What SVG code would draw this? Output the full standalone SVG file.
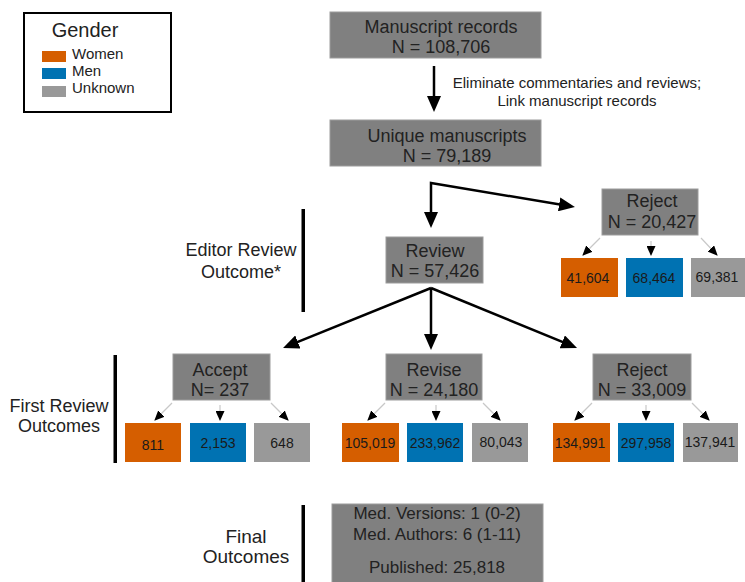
<svg xmlns="http://www.w3.org/2000/svg" width="745" height="582" viewBox="0 0 745 582">
<defs>
<style>
text{font-family:"Liberation Sans",Arial,sans-serif;fill:#222;text-anchor:middle}
.main{fill:#808080;stroke:#9c9c9c;stroke-width:1}
.big{font-size:18px}
.num{font-size:14px;fill:#1a1a1a}
.w{fill:#D55E00}
.m{fill:#0072B2}
.u{fill:#999999}
.bar{fill:#000}
.conn{stroke:#000;stroke-width:2.5;fill:none}
.thin{stroke:#c8c8c8;stroke-width:1.2;fill:none}
</style>
<marker id="ah" markerUnits="userSpaceOnUse" markerWidth="16" markerHeight="14" refX="10" refY="7" orient="auto-start-reverse">
<path d="M0,0 L16,7 L0,14 z" fill="#000"/>
</marker>
<marker id="sh" markerUnits="userSpaceOnUse" markerWidth="10" markerHeight="9" refX="9" refY="4.5" orient="auto">
<path d="M0,0 L10,4.5 L0,9 z" fill="#000"/>
</marker>
</defs>
<rect width="745" height="582" fill="#fff"/>

<g id="legend">
<rect x="24" y="13" width="147" height="99" fill="#fff" stroke="#000" stroke-width="2"/>
<text x="85" y="37" style="font-size:20px">Gender</text>
<rect class="w" x="42" y="51" width="24" height="11"/>
<rect class="m" x="42" y="68" width="24" height="11"/>
<rect class="u" x="42" y="86" width="24" height="11"/>
<text x="72" y="59" style="font-size:15px;text-anchor:start">Women</text>
<text x="72" y="76" style="font-size:15px;text-anchor:start">Men</text>
<text x="72" y="93" style="font-size:15px;text-anchor:start">Unknown</text>
</g>

<g id="connectors">
<line class="conn" x1="434" y1="66" x2="434" y2="106" marker-end="url(#ah)"/>
<path class="conn" d="M431,222 V183 L569,206" marker-start="url(#ah)" marker-end="url(#ah)"/>
<line class="conn" x1="431" y1="288" x2="431" y2="344" marker-end="url(#ah)"/>
<line class="conn" x1="431" y1="288" x2="288.6" y2="345.7" marker-end="url(#ah)"/>
<line class="conn" x1="431" y1="288" x2="571.5" y2="345.7" marker-end="url(#ah)"/>
<line class="thin" x1="600" y1="238" x2="583" y2="255" marker-end="url(#sh)"/>
<line class="thin" x1="651" y1="241" x2="651" y2="255" marker-end="url(#sh)"/>
<line class="thin" x1="701" y1="238" x2="717" y2="255" marker-end="url(#sh)"/>
<line class="thin" x1="172" y1="403" x2="155" y2="420" marker-end="url(#sh)"/>
<line class="thin" x1="220" y1="405" x2="220" y2="420" marker-end="url(#sh)"/>
<line class="thin" x1="271" y1="403" x2="288" y2="420" marker-end="url(#sh)"/>
<line class="thin" x1="385" y1="403" x2="368" y2="420" marker-end="url(#sh)"/>
<line class="thin" x1="436" y1="405" x2="436" y2="420" marker-end="url(#sh)"/>
<line class="thin" x1="483" y1="403" x2="500" y2="420" marker-end="url(#sh)"/>
<line class="thin" x1="592" y1="403" x2="575" y2="420" marker-end="url(#sh)"/>
<line class="thin" x1="646" y1="405" x2="646" y2="420" marker-end="url(#sh)"/>
<line class="thin" x1="692" y1="403" x2="709" y2="420" marker-end="url(#sh)"/>
<text x="577" y="88" style="font-size:15px">Eliminate commentaries and reviews;</text>
<text x="577" y="106" style="font-size:15px">Link manuscript records</text>
</g>

<g id="manuscripts">
<rect class="main" x="330" y="12" width="211" height="46"/>
<text class="big" x="441" y="33">Manuscript records</text>
<text class="big" x="441" y="53">N = 108,706</text>
</g>

<g id="unique">
<rect class="main" x="330" y="120" width="211" height="46"/>
<text class="big" x="447" y="142">Unique manuscripts</text>
<text class="big" x="447" y="162">N = 79,189</text>
</g>

<g id="editor-label">
<text class="big" x="241" y="256">Editor Review</text>
<text class="big" x="241" y="278">Outcome*</text>
<rect class="bar" x="301.5" y="209" width="3.5" height="103"/>
</g>

<g id="review">
<rect class="main" x="386" y="237" width="97" height="46"/>
<text class="big" x="435" y="257">Review</text>
<text class="big" x="435" y="277">N = 57,426</text>
</g>

<g id="reject-editor">
<rect class="main" x="602" y="189" width="96" height="46"/>
<text class="big" x="652" y="207">Reject</text>
<text class="big" x="652" y="228">N = 20,427</text>
<rect class="w" x="561" y="258" width="57" height="39"/>
<rect class="m" x="626" y="258" width="57" height="39"/>
<rect class="u" x="691" y="258" width="56" height="39"/>
<text class="num" x="588" y="283">41,604</text>
<text class="num" x="654" y="283">68,464</text>
<text class="num" x="717" y="282">69,381</text>
</g>

<g id="first-label">
<text class="big" x="59" y="412">First Review</text>
<text class="big" x="59" y="432">Outcomes</text>
<rect class="bar" x="113.5" y="355" width="3.5" height="108"/>
</g>

<g id="accept">
<rect class="main" x="173" y="354" width="97" height="46"/>
<text class="big" x="220" y="376">Accept</text>
<text class="big" x="220" y="396">N= 237</text>
<rect class="w" x="125" y="423" width="56" height="39"/>
<rect class="m" x="190" y="423" width="56" height="39"/>
<rect class="u" x="254" y="423" width="56" height="39"/>
<text class="num" x="153" y="450">811</text>
<text class="num" x="218" y="448">2,153</text>
<text class="num" x="282" y="448">648</text>
</g>

<g id="revise">
<rect class="main" x="386" y="354" width="96" height="46"/>
<text class="big" x="434" y="376">Revise</text>
<text class="big" x="434" y="396">N = 24,180</text>
<rect class="w" x="342" y="423" width="57" height="39"/>
<rect class="m" x="407" y="423" width="56" height="39"/>
<rect class="u" x="472" y="423" width="56" height="39"/>
<text class="num" x="370" y="448">105,019</text>
<text class="num" x="435" y="448">233,962</text>
<text class="num" x="501" y="447">80,043</text>
</g>

<g id="reject-review">
<rect class="main" x="593" y="354" width="98" height="46"/>
<text class="big" x="642" y="376">Reject</text>
<text class="big" x="642" y="396">N = 33,009</text>
<rect class="w" x="553" y="423" width="57" height="39"/>
<rect class="m" x="618" y="423" width="56" height="39"/>
<rect class="u" x="683" y="423" width="55" height="39"/>
<text class="num" x="580" y="448">134,991</text>
<text class="num" x="646" y="448">297,958</text>
<text class="num" x="710" y="447">137,941</text>
</g>

<g id="final-label">
<text x="246" y="543" style="font-size:19px">Final</text>
<text x="246" y="563" style="font-size:19px">Outcomes</text>
<rect class="bar" x="301.5" y="505" width="3.5" height="77"/>
</g>

<g id="final">
<rect class="main" x="332" y="504" width="211" height="82"/>
<text x="437" y="519" style="font-size:17px">Med. Versions: 1 (0-2)</text>
<text x="437" y="540" style="font-size:17px">Med. Authors: 6 (1-11)</text>
<text x="437" y="573" style="font-size:17px">Published: 25,818</text>
</g>
</svg>
